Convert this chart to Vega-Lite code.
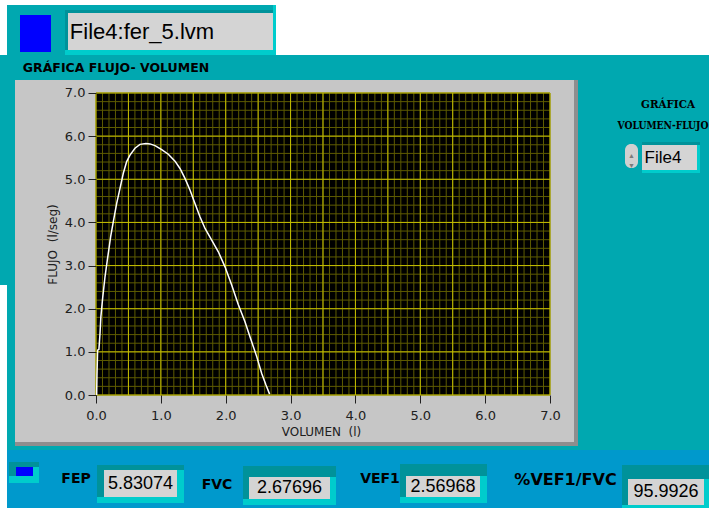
{
"$schema":"https://vega.github.io/schema/vega-lite/v6.json",
"padding":0,
"background":"#00A8B0",
"spacing":0,
"config":{"view":{"stroke":null},"concat":{"spacing":0},"axis":{"labelOverlap":false}},
"datasets":{
 "archivos":[{"archivo":"File4:fer_5.lvm","selector":"File4"}],
 "lecturas":[{"metric":"FEP","value":"5.83074"},{"metric":"FVC","value":"2.67696"},{"metric":"VEF1","value":"2.56968"},{"metric":"%VEF1/FVC","value":"95.9926"}],
 "curva":[
  {"vol":0.01,"flujo":0.0},{"vol":0.015,"flujo":0.46},{"vol":0.025,"flujo":1.04},{"vol":0.045,"flujo":1.06},{"vol":0.062,"flujo":1.43},{"vol":0.075,"flujo":1.81},{"vol":0.103,"flujo":2.25},{"vol":0.139,"flujo":2.74},{"vol":0.175,"flujo":3.13},{"vol":0.226,"flujo":3.67},{"vol":0.267,"flujo":4.02},{"vol":0.319,"flujo":4.44},{"vol":0.37,"flujo":4.79},{"vol":0.421,"flujo":5.14},{"vol":0.473,"flujo":5.41},{"vol":0.524,"flujo":5.56},{"vol":0.601,"flujo":5.72},{"vol":0.678,"flujo":5.81},{"vol":0.77,"flujo":5.83},{"vol":0.833,"flujo":5.82},{"vol":0.91,"flujo":5.78},{"vol":1.013,"flujo":5.69},{"vol":1.115,"flujo":5.58},{"vol":1.218,"flujo":5.42},{"vol":1.295,"flujo":5.25},{"vol":1.372,"flujo":5.02},{"vol":1.449,"flujo":4.75},{"vol":1.526,"flujo":4.44},{"vol":1.603,"flujo":4.13},{"vol":1.681,"flujo":3.86},{"vol":1.784,"flujo":3.59},{"vol":1.886,"flujo":3.32},{"vol":1.989,"flujo":2.97},{"vol":2.092,"flujo":2.55},{"vol":2.195,"flujo":2.09},{"vol":2.297,"flujo":1.7},{"vol":2.374,"flujo":1.35},{"vol":2.478,"flujo":0.89},{"vol":2.555,"flujo":0.5},{"vol":2.621,"flujo":0.23},{"vol":2.677,"flujo":0.02}
 ],
 "rejilla":[
  {"v":0},{"v":0.1},{"v":0.2},{"v":0.3},{"v":0.4},{"v":0.5},{"v":0.6},{"v":0.7},{"v":0.8},{"v":0.9},
  {"v":1},{"v":1.1},{"v":1.2},{"v":1.3},{"v":1.4},{"v":1.5},{"v":1.6},{"v":1.7},{"v":1.8},{"v":1.9},
  {"v":2},{"v":2.1},{"v":2.2},{"v":2.3},{"v":2.4},{"v":2.5},{"v":2.6},{"v":2.7},{"v":2.8},{"v":2.9},
  {"v":3},{"v":3.1},{"v":3.2},{"v":3.3},{"v":3.4},{"v":3.5},{"v":3.6},{"v":3.7},{"v":3.8},{"v":3.9},
  {"v":4},{"v":4.1},{"v":4.2},{"v":4.3},{"v":4.4},{"v":4.5},{"v":4.6},{"v":4.7},{"v":4.8},{"v":4.9},
  {"v":5},{"v":5.1},{"v":5.2},{"v":5.3},{"v":5.4},{"v":5.5},{"v":5.6},{"v":5.7},{"v":5.8},{"v":5.9},
  {"v":6},{"v":6.1},{"v":6.2},{"v":6.3},{"v":6.4},{"v":6.5},{"v":6.6},{"v":6.7},{"v":6.8},{"v":6.9},
  {"v":7}
 ]
},
"vconcat":[
 {"spacing":0,"hconcat":[
  {"width":7,"height":55,"data":{"values":[]},"mark":"point","view":{"fill":"#FFFFFF"}},
  {"spacing":0,"vconcat":[
   {"width":269,"height":5,"data":{"values":[]},"mark":"point","view":{"fill":"#FFFFFF"}},
   {"spacing":0,"hconcat":[
    {"width":13,"height":50,"data":{"values":[]},"mark":"point","view":{"fill":"#00A8B0"}},
    {"spacing":0,"vconcat":[
     {"width":31,"height":10,"data":{"values":[]},"mark":"point","view":{"fill":"#00A8B0"}},
     {"width":31,"height":37,"data":{"values":[]},"mark":"point","view":{"fill":"#0000FF"}},
     {"width":31,"height":3,"data":{"values":[]},"mark":"point","view":{"fill":"#00A8B0"}}
    ]},
    {"width":14,"height":50,"data":{"values":[]},"mark":"point","view":{"fill":"#00A8B0"}},
    {"spacing":0,"vconcat":[
     {"width":208,"height":5,"data":{"values":[]},"mark":"point","view":{"fill":"#00A8B0"}},
     {"width":208,"height":3,"data":{"values":[]},"mark":"point","view":{"fill":"#00929A"}},
     {"spacing":0,"hconcat":[
      {"width":3,"height":37,"data":{"values":[]},"mark":"point","view":{"fill":"#00929A"}},
      {"width":148,"height":37,"data":{"name":"archivos"},"mark":{"type":"text","clip":true,"font":"Liberation Sans","fontSize":22,"color":"#000000"},"encoding":{"text":{"field":"archivo","type":"nominal"}},"view":{"fill":"#D4D4D4"}},
      {"width":57,"height":37,"data":{"values":[]},"mark":"point","view":{"fill":"#D4D4D4"}}
     ]},
     {"width":208,"height":5,"data":{"values":[]},"mark":"point","view":{"fill":"#00CCCC"}}
    ]},
    {"width":3,"height":50,"data":{"values":[]},"mark":"point","view":{"fill":"#00CCCC"}}
   ]}
  ]},
  {"width":433,"height":55,"data":{"values":[]},"mark":"point","view":{"fill":"#FFFFFF"}}
 ]},
 {"spacing":0,"hconcat":[
  {"spacing":0,"vconcat":[
   {"width":15,"height":230,"data":{"values":[]},"mark":"point","view":{"fill":"#00A8B0"}},
   {"spacing":0,"hconcat":[
    {"width":7,"height":165,"data":{"values":[]},"mark":"point","view":{"fill":"#FFFFFF"}},
    {"width":8,"height":165,"data":{"values":[]},"mark":"point","view":{"fill":"#00A8B0"}}
   ]}
  ]},
  {"spacing":0,"vconcat":[
   {"spacing":0,"hconcat":[
    {"width":1,"height":25,"data":{"values":[]},"mark":"point","view":{"fill":"#00A8B0"}},
    {"width":200,"height":25,"data":{"values":[{}]},"mark":{"type":"text","clip":true,"text":"GRÁFICA FLUJO- VOLUMEN","font":"DejaVu Sans","fontSize":12.5,"fontWeight":"bold","color":"#000000"},"view":{"fill":"#00A8B0"}},
    {"width":362,"height":25,"data":{"values":[]},"mark":"point","view":{"fill":"#00A8B0"}}
   ]},
   {"spacing":0,"hconcat":[
    {"width":559,"height":362,
     "view":{"fill":"#C6C6C6"},
     "layer":[
      {"data":{"values":[{}]},"mark":{"type":"rect","color":"#000000"},"encoding":{
        "x":{"datum":0,"type":"quantitative","axis":{"title":"VOLUMEN\u00a0\u00a0(l)","values":[0,0.5,1,1.5,2,2.5,3,3.5,4,4.5,5,5.5,6,6.5,7],"format":".1f","offset":-47,"zindex":1,"domain":false,"grid":false,"tickColor":"#202020","tickSize":8,"tickWidth":1,"labelFont":"DejaVu Sans","labelFontSize":13,"labelColor":"#202020","labelPadding":6,"labelFlush":false,"labelOverlap":false,"titleFont":"DejaVu Sans","titleFontSize":12,"titleFontWeight":"normal","titleColor":"#202020","titlePadding":4,"titleX":306}},
        "x2":{"datum":7},
        "y":{"datum":0,"type":"quantitative","axis":{"title":"FLUJO\u00a0\u00a0(l/seg)","values":[0,1,2,3,4,5,6,7],"format":".1f","offset":-81,"zindex":1,"domain":false,"grid":false,"tickColor":"#202020","tickSize":8,"tickWidth":1,"labelFont":"DejaVu Sans","labelFontSize":13,"labelColor":"#202020","labelPadding":3,"labelOverlap":false,"titleFont":"DejaVu Sans","titleFontSize":12,"titleFontWeight":"normal","titleColor":"#202020","titlePadding":5,"titleY":164}},
        "y2":{"datum":7}}},
      {"data":{"name":"rejilla"},"mark":{"type":"rule","color":"#5E5B00","strokeWidth":1},"encoding":{
        "x":{"field":"v","type":"quantitative","axis":{"title":"VOLUMEN\u00a0\u00a0(l)","values":[0,0.5,1,1.5,2,2.5,3,3.5,4,4.5,5,5.5,6,6.5,7],"format":".1f","offset":-47,"zindex":1,"domain":false,"grid":false,"tickColor":"#202020","tickSize":8,"tickWidth":1,"labelFont":"DejaVu Sans","labelFontSize":13,"labelColor":"#202020","labelPadding":6,"labelFlush":false,"labelOverlap":false,"titleFont":"DejaVu Sans","titleFontSize":12,"titleFontWeight":"normal","titleColor":"#202020","titlePadding":4,"titleX":306}},
        "y":{"datum":0,"type":"quantitative"},"y2":{"datum":7}}},
      {"data":{"name":"rejilla"},"transform":[{"filter":"abs(datum.v*5-round(datum.v*5))<0.001"}],"mark":{"type":"rule","color":"#5E5B00","strokeWidth":1},"encoding":{
        "y":{"field":"v","type":"quantitative","axis":{"title":"FLUJO\u00a0\u00a0(l/seg)","values":[0,1,2,3,4,5,6,7],"format":".1f","offset":-81,"zindex":1,"domain":false,"grid":false,"tickColor":"#202020","tickSize":8,"tickWidth":1,"labelFont":"DejaVu Sans","labelFontSize":13,"labelColor":"#202020","labelPadding":3,"labelOverlap":false,"titleFont":"DejaVu Sans","titleFontSize":12,"titleFontWeight":"normal","titleColor":"#202020","titlePadding":5,"titleY":164}},
        "x":{"datum":0,"type":"quantitative"},"x2":{"datum":7}}},
      {"data":{"name":"rejilla"},"transform":[{"filter":"abs(datum.v*2-round(datum.v*2))<0.001"}],"mark":{"type":"rule","color":"#C4BE00","strokeWidth":1},"encoding":{
        "x":{"field":"v","type":"quantitative","axis":{"title":"VOLUMEN\u00a0\u00a0(l)","values":[0,0.5,1,1.5,2,2.5,3,3.5,4,4.5,5,5.5,6,6.5,7],"format":".1f","offset":-47,"zindex":1,"domain":false,"grid":false,"tickColor":"#202020","tickSize":8,"tickWidth":1,"labelFont":"DejaVu Sans","labelFontSize":13,"labelColor":"#202020","labelPadding":6,"labelFlush":false,"labelOverlap":false,"titleFont":"DejaVu Sans","titleFontSize":12,"titleFontWeight":"normal","titleColor":"#202020","titlePadding":4,"titleX":306}},
        "y":{"datum":0,"type":"quantitative"},"y2":{"datum":7}}},
      {"data":{"name":"rejilla"},"transform":[{"filter":"abs(datum.v-round(datum.v))<0.001"}],"mark":{"type":"rule","color":"#C4BE00","strokeWidth":1},"encoding":{
        "y":{"field":"v","type":"quantitative","axis":{"title":"FLUJO\u00a0\u00a0(l/seg)","values":[0,1,2,3,4,5,6,7],"format":".1f","offset":-81,"zindex":1,"domain":false,"grid":false,"tickColor":"#202020","tickSize":8,"tickWidth":1,"labelFont":"DejaVu Sans","labelFontSize":13,"labelColor":"#202020","labelPadding":3,"labelOverlap":false,"titleFont":"DejaVu Sans","titleFontSize":12,"titleFontWeight":"normal","titleColor":"#202020","titlePadding":5,"titleY":164}},
        "x":{"datum":0,"type":"quantitative"},"x2":{"datum":7}}},
      {"data":{"name":"curva"},"mark":{"type":"line","color":"#FFFFFF","strokeWidth":1.5},
       "encoding":{
        "x":{"field":"vol","type":"quantitative","title":"VOLUMEN\u00a0\u00a0(l)","scale":{"domain":[-1.2489,7.3701],"nice":false,"zero":false},
             "axis":{"title":"VOLUMEN\u00a0\u00a0(l)","values":[0,0.5,1,1.5,2,2.5,3,3.5,4,4.5,5,5.5,6,6.5,7],"format":".1f","offset":-47,"zindex":1,"domain":false,"grid":false,"tickColor":"#202020","tickSize":8,"tickWidth":1,"labelFont":"DejaVu Sans","labelFontSize":13,"labelColor":"#202020","labelPadding":6,"labelFlush":false,"labelOverlap":false,"titleFont":"DejaVu Sans","titleFontSize":12,"titleFontWeight":"normal","titleColor":"#202020","titlePadding":4,"titleX":306}},
        "y":{"field":"flujo","type":"quantitative","title":"FLUJO\u00a0\u00a0(l/seg)","scale":{"domain":[-1.0894,7.3013],"nice":false,"zero":false},
             "axis":{"title":"FLUJO\u00a0\u00a0(l/seg)","values":[0,1,2,3,4,5,6,7],"format":".1f","offset":-81,"zindex":1,"domain":false,"grid":false,"tickColor":"#202020","tickSize":8,"tickWidth":1,"labelFont":"DejaVu Sans","labelFontSize":13,"labelColor":"#202020","labelPadding":3,"labelOverlap":false,"titleFont":"DejaVu Sans","titleFontSize":12,"titleFontWeight":"normal","titleColor":"#202020","titlePadding":5,"titleY":164}}
       }}
     ]},
    {"width":4,"height":362,"data":{"values":[]},"mark":"point","view":{"fill":"#8E8E8E"}}
   ]},
   {"width":563,"height":4,"data":{"values":[]},"mark":"point","view":{"fill":"#8E8E8E"}},
   {"width":563,"height":4,"data":{"values":[]},"mark":"point","view":{"fill":"#00A8B0"}}
  ]},
  {"spacing":0,"vconcat":[
   {"width":131,"height":40,"data":{"values":[]},"mark":"point","view":{"fill":"#00A8B0"}},
   {"spacing":0,"hconcat":[
    {"width":49,"height":20,"data":{"values":[]},"mark":"point","view":{"fill":"#00A8B0"}},
    {"width":82,"height":20,"data":{"values":[{}]},"mark":{"type":"text","clip":true,"text":"GRÁFICA","font":"DejaVu Serif Condensed, DejaVu Serif","fontSize":11.5,"fontWeight":"bold","color":"#000000"},"view":{"fill":"#00A8B0"}}
   ]},
   {"spacing":0,"hconcat":[
    {"width":39,"height":21,"data":{"values":[]},"mark":"point","view":{"fill":"#00A8B0"}},
    {"width":92,"height":21,"data":{"values":[{}]},"mark":{"type":"text","clip":true,"text":"VOLUMEN-FLUJO","font":"DejaVu Serif Condensed, DejaVu Serif","fontSize":10.2,"fontWeight":"bold","color":"#000000"},"view":{"fill":"#00A8B0"}}
   ]},
   {"width":131,"height":6,"data":{"values":[]},"mark":"point","view":{"fill":"#00A8B0"}},
   {"spacing":0,"hconcat":[
    {"width":47,"height":31,"data":{"values":[]},"mark":"point","view":{"fill":"#00A8B0"}},
    {"spacing":0,"vconcat":[
     {"width":13,"height":2,"data":{"values":[]},"mark":"point","view":{"fill":"#00A8B0"}},
     {"width":13,"height":24,"data":{"values":[{}]},"mark":{"type":"text","clip":true,"text":["▲","▼"],"lineHeight":10,"fontSize":7,"color":"#7A7A7A"},"view":{"fill":"#D0D0D0","cornerRadius":6}},
     {"width":13,"height":5,"data":{"values":[]},"mark":"point","view":{"fill":"#00A8B0"}}
    ]},
    {"width":4,"height":31,"data":{"values":[]},"mark":"point","view":{"fill":"#00A8B0"}},
    {"spacing":0,"vconcat":[
     {"width":58,"height":3,"data":{"values":[]},"mark":"point","view":{"fill":"#00929A"}},
     {"spacing":0,"hconcat":[
      {"width":42,"height":25,"data":{"name":"archivos"},"mark":{"type":"text","clip":true,"font":"Liberation Sans","fontSize":17,"color":"#000000"},"encoding":{"text":{"field":"selector","type":"nominal"}},"view":{"fill":"#D4D4D4"}},
      {"width":13,"height":25,"data":{"values":[]},"mark":"point","view":{"fill":"#D4D4D4"}},
      {"width":3,"height":25,"data":{"values":[]},"mark":"point","view":{"fill":"#00CCCC"}}
     ]},
     {"width":58,"height":3,"data":{"values":[]},"mark":"point","view":{"fill":"#00CCCC"}}
    ]},
    {"width":9,"height":31,"data":{"values":[]},"mark":"point","view":{"fill":"#00A8B0"}}
   ]},
   {"width":131,"height":277,"data":{"values":[]},"mark":"point","view":{"fill":"#00A8B0"}}
  ]}
 ]},
 {"spacing":0,"hconcat":[
  {"width":7,"height":58,"data":{"values":[]},"mark":"point","view":{"fill":"#FFFFFF"}},
  {"width":2,"height":58,"data":{"values":[]},"mark":"point","view":{"fill":"#0099CC"}},
  {"spacing":0,"vconcat":[
   {"width":30,"height":12,"data":{"values":[]},"mark":"point","view":{"fill":"#0099CC"}},
   {"width":30,"height":5,"data":{"values":[]},"mark":"point","view":{"fill":"#00929A"}},
   {"spacing":0,"hconcat":[
    {"width":7,"height":9,"data":{"values":[]},"mark":"point","view":{"fill":"#00929A"}},
    {"width":17,"height":9,"data":{"values":[]},"mark":"point","view":{"fill":"#0000FF"}},
    {"width":6,"height":9,"data":{"values":[]},"mark":"point","view":{"fill":"#00CCCC"}}
   ]},
   {"width":30,"height":7,"data":{"values":[]},"mark":"point","view":{"fill":"#00CCCC"}},
   {"width":30,"height":25,"data":{"values":[]},"mark":"point","view":{"fill":"#0099CC"}}
  ]},
  {"width":21,"height":58,"data":{"values":[]},"mark":"point","view":{"fill":"#0099CC"}},
  {"width":32,"height":58,"data":{"name":"lecturas"},"transform":[{"filter":"datum.metric=='FEP'"}],"mark":{"type":"text","clip":true,"font":"DejaVu Sans","fontSize":14,"fontWeight":"bold","color":"#000000"},"encoding":{"text":{"field":"metric","type":"nominal"}},"view":{"fill":"#0099CC"}},
  {"width":5,"height":58,"data":{"values":[]},"mark":"point","view":{"fill":"#0099CC"}},
  {"spacing":0,"vconcat":[
   {"width":87,"height":15,"data":{"values":[]},"mark":"point","view":{"fill":"#0099CC"}},
   {"width":87,"height":5,"data":{"values":[]},"mark":"point","view":{"fill":"#00929A"}},
   {"spacing":0,"hconcat":[
    {"width":7,"height":27,"data":{"values":[]},"mark":"point","view":{"fill":"#00929A"}},
    {"width":73,"height":27,"data":{"name":"lecturas"},"transform":[{"filter":"datum.metric=='FEP'"}],"mark":{"type":"text","clip":true,"font":"Liberation Sans","fontSize":18,"color":"#000000"},"encoding":{"text":{"field":"value","type":"nominal"}},"view":{"fill":"#D4D4D4"}},
    {"width":7,"height":27,"data":{"values":[]},"mark":"point","view":{"fill":"#00CCCC"}}
   ]},
   {"width":87,"height":6,"data":{"values":[]},"mark":"point","view":{"fill":"#00CCCC"}},
   {"width":87,"height":5,"data":{"values":[]},"mark":"point","view":{"fill":"#0099CC"}}
  ]},
  {"width":17,"height":58,"data":{"values":[]},"mark":"point","view":{"fill":"#0099CC"}},
  {"spacing":0,"vconcat":[
   {"width":32,"height":12,"data":{"values":[]},"mark":"point","view":{"fill":"#0099CC"}},
   {"width":32,"height":46,"data":{"name":"lecturas"},"transform":[{"filter":"datum.metric=='FVC'"}],"mark":{"type":"text","clip":true,"font":"DejaVu Sans","fontSize":14,"fontWeight":"bold","color":"#000000"},"encoding":{"text":{"field":"metric","type":"nominal"}},"view":{"fill":"#0099CC"}}
  ]},
  {"width":10,"height":58,"data":{"values":[]},"mark":"point","view":{"fill":"#0099CC"}},
  {"spacing":0,"vconcat":[
   {"width":93,"height":16,"data":{"values":[]},"mark":"point","view":{"fill":"#0099CC"}},
   {"width":93,"height":11,"data":{"values":[]},"mark":"point","view":{"fill":"#00929A"}},
   {"spacing":0,"hconcat":[
    {"width":6,"height":22,"data":{"values":[]},"mark":"point","view":{"fill":"#00929A"}},
    {"width":81,"height":22,"data":{"name":"lecturas"},"transform":[{"filter":"datum.metric=='FVC'"}],"mark":{"type":"text","clip":true,"font":"Liberation Sans","fontSize":18,"color":"#000000"},"encoding":{"text":{"field":"value","type":"nominal"}},"view":{"fill":"#D4D4D4"}},
    {"width":6,"height":22,"data":{"values":[]},"mark":"point","view":{"fill":"#00CCCC"}}
   ]},
   {"width":93,"height":6,"data":{"values":[]},"mark":"point","view":{"fill":"#00CCCC"}},
   {"width":93,"height":3,"data":{"values":[]},"mark":"point","view":{"fill":"#0099CC"}}
  ]},
  {"width":24,"height":58,"data":{"values":[]},"mark":"point","view":{"fill":"#0099CC"}},
  {"width":40,"height":58,"data":{"name":"lecturas"},"transform":[{"filter":"datum.metric=='VEF1'"}],"mark":{"type":"text","clip":true,"font":"DejaVu Sans","fontSize":14,"fontWeight":"bold","color":"#000000"},"encoding":{"text":{"field":"metric","type":"nominal"}},"view":{"fill":"#0099CC"}},
  {"spacing":0,"vconcat":[
   {"width":87,"height":14,"data":{"values":[]},"mark":"point","view":{"fill":"#0099CC"}},
   {"width":87,"height":12,"data":{"values":[]},"mark":"point","view":{"fill":"#00929A"}},
   {"spacing":0,"hconcat":[
    {"width":6,"height":21,"data":{"values":[]},"mark":"point","view":{"fill":"#00929A"}},
    {"width":74,"height":21,"data":{"name":"lecturas"},"transform":[{"filter":"datum.metric=='VEF1'"}],"mark":{"type":"text","clip":true,"font":"Liberation Sans","fontSize":18,"color":"#000000"},"encoding":{"text":{"field":"value","type":"nominal"}},"view":{"fill":"#D4D4D4"}},
    {"width":7,"height":21,"data":{"values":[]},"mark":"point","view":{"fill":"#00CCCC"}}
   ]},
   {"width":87,"height":6,"data":{"values":[]},"mark":"point","view":{"fill":"#00CCCC"}},
   {"width":87,"height":5,"data":{"values":[]},"mark":"point","view":{"fill":"#0099CC"}}
  ]},
  {"width":26,"height":58,"data":{"values":[]},"mark":"point","view":{"fill":"#0099CC"}},
  {"spacing":0,"vconcat":[
   {"width":105,"height":2,"data":{"values":[]},"mark":"point","view":{"fill":"#0099CC"}},
   {"width":105,"height":56,"data":{"name":"lecturas"},"transform":[{"filter":"datum.metric=='%VEF1/FVC'"}],"mark":{"type":"text","clip":true,"font":"DejaVu Sans","fontSize":16,"fontWeight":"bold","color":"#000000"},"encoding":{"text":{"field":"metric","type":"nominal"}},"view":{"fill":"#0099CC"}}
  ]},
  {"width":4,"height":58,"data":{"values":[]},"mark":"point","view":{"fill":"#0099CC"}},
  {"spacing":0,"vconcat":[
   {"width":87,"height":15,"data":{"values":[]},"mark":"point","view":{"fill":"#0099CC"}},
   {"width":87,"height":14,"data":{"values":[]},"mark":"point","view":{"fill":"#00929A"}},
   {"spacing":0,"hconcat":[
    {"width":6,"height":26,"data":{"values":[]},"mark":"point","view":{"fill":"#00929A"}},
    {"width":76,"height":26,"data":{"name":"lecturas"},"transform":[{"filter":"datum.metric=='%VEF1/FVC'"}],"mark":{"type":"text","clip":true,"font":"Liberation Sans","fontSize":18,"color":"#000000"},"encoding":{"text":{"field":"value","type":"nominal"}},"view":{"fill":"#D4D4D4"}},
    {"width":5,"height":26,"data":{"values":[]},"mark":"point","view":{"fill":"#00CCCC"}}
   ]},
   {"width":87,"height":3,"data":{"values":[]},"mark":"point","view":{"fill":"#00CCCC"}}
  ]}
 ]}
]
}
